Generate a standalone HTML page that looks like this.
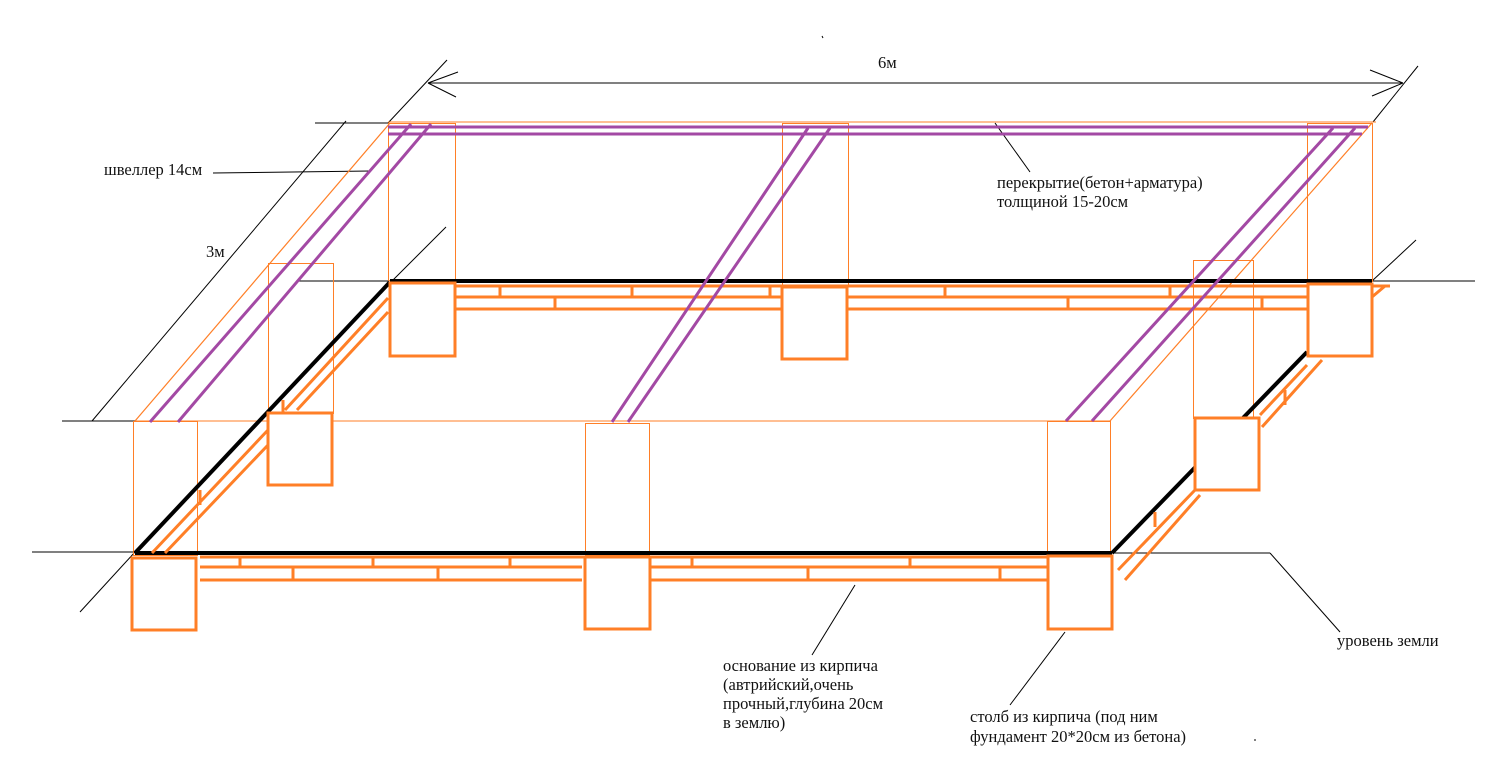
<!DOCTYPE html>
<html><head><meta charset="utf-8"><style>
html,body{margin:0;padding:0;background:#fff;}
svg{display:block}
text{font-family:"Liberation Serif",serif;font-size:16.5px;fill:#111}
</style></head><body>
<svg width="1496" height="782" viewBox="0 0 1496 782" xmlns="http://www.w3.org/2000/svg">
<g stroke="#000" stroke-width="1" fill="none">
<line x1="428" y1="83" x2="1403" y2="83"/>
<line x1="428" y1="83" x2="458" y2="72"/>
<line x1="428" y1="83" x2="456" y2="97"/>
<line x1="1403" y1="83" x2="1370" y2="70"/>
<line x1="1403" y1="83" x2="1372" y2="96"/>
<line x1="447" y1="60" x2="388" y2="123"/>
<line x1="1418" y1="66" x2="1373" y2="122"/>
<line x1="346" y1="121" x2="92" y2="421"/>
<line x1="315" y1="123" x2="388" y2="123"/>
<line x1="62" y1="421" x2="135" y2="421"/>
<line x1="213" y1="173" x2="370" y2="171"/>
<line x1="296" y1="281" x2="388" y2="281"/>
<line x1="446" y1="227" x2="393" y2="280"/>
<line x1="995" y1="123" x2="1030" y2="172"/>
<line x1="32" y1="552" x2="135" y2="552"/>
<line x1="135" y1="552" x2="80" y2="612"/>
<line x1="1112" y1="553" x2="1270" y2="553"/>
<line x1="1270" y1="553" x2="1340" y2="632"/>
<line x1="1372" y1="281" x2="1475" y2="281"/>
<line x1="1372" y1="281" x2="1416" y2="240"/>
<line x1="855" y1="585" x2="812" y2="655"/>
<line x1="1065" y1="632" x2="1010" y2="705"/>
<line x1="822" y1="36" x2="823" y2="38"/>
<line x1="1254" y1="740" x2="1256" y2="740"/>
</g>
<g stroke="#ff7f27" stroke-width="1" fill="none" shape-rendering="crispEdges">
<line x1="388" y1="122" x2="1376" y2="122"/>
<line x1="135" y1="421" x2="1110" y2="421"/>
<rect x="388.5" y="123.5" width="67" height="157"/>
<rect x="782.5" y="123.5" width="66" height="162"/>
<rect x="1307.5" y="123.5" width="65" height="158"/>
<rect x="268.5" y="263.5" width="65" height="150"/>
<rect x="1193.5" y="260.5" width="60" height="158"/>
<rect x="133.5" y="421.5" width="64" height="134"/>
<rect x="585.5" y="423.5" width="64" height="132"/>
<rect x="1047.5" y="421.5" width="63" height="134"/>
</g>
<g stroke="#ff7f27" stroke-width="1.2" fill="none">
<line x1="135" y1="421" x2="390" y2="123"/>
<line x1="1110" y1="421" x2="1372" y2="123"/>
</g>
<g stroke="#000" stroke-width="4" fill="none">
<line x1="390" y1="281" x2="1372" y2="281"/>
<line x1="135" y1="553" x2="1112" y2="553"/>
<line x1="135" y1="553" x2="390" y2="282"/>
<line x1="1112" y1="553" x2="1307" y2="352"/>
</g>
<g stroke="#ff7f27" stroke-width="3" fill="none">
<line x1="455" y1="286" x2="1308" y2="286"/>
<line x1="455" y1="297" x2="1308" y2="297"/>
<line x1="455" y1="309" x2="1308" y2="309"/>
<line x1="1372" y1="297" x2="1385" y2="286"/><line x1="1372" y1="286" x2="1390" y2="286"/>
<line x1="500" y1="286" x2="500" y2="297"/><line x1="632" y1="286" x2="632" y2="297"/><line x1="770" y1="286" x2="770" y2="297"/>
<line x1="945" y1="286" x2="945" y2="297"/><line x1="1170" y1="286" x2="1170" y2="297"/>
<line x1="555" y1="297" x2="555" y2="309"/><line x1="1068" y1="297" x2="1068" y2="309"/><line x1="1262" y1="297" x2="1262" y2="309"/>
<line x1="200" y1="557" x2="1048" y2="557"/>
<line x1="200" y1="567" x2="582" y2="567"/><line x1="650" y1="567" x2="1048" y2="567"/>
<line x1="200" y1="580" x2="582" y2="580"/><line x1="650" y1="580" x2="1048" y2="580"/>
<line x1="240" y1="557" x2="240" y2="567"/><line x1="373" y1="557" x2="373" y2="567"/><line x1="510" y1="557" x2="510" y2="567"/>
<line x1="692" y1="557" x2="692" y2="567"/><line x1="910" y1="557" x2="910" y2="567"/>
<line x1="293" y1="567" x2="293" y2="580"/><line x1="438" y1="567" x2="438" y2="580"/><line x1="808" y1="567" x2="808" y2="580"/><line x1="1000" y1="567" x2="1000" y2="580"/>
<line x1="152" y1="553" x2="268" y2="430"/><line x1="165" y1="553" x2="268" y2="445"/>
<line x1="285" y1="410" x2="388" y2="298"/><line x1="297" y1="410" x2="388" y2="312"/>
<line x1="1118" y1="570" x2="1195" y2="490"/><line x1="1125" y1="580" x2="1200" y2="495"/>
<line x1="1260" y1="415" x2="1307" y2="365"/><line x1="1262" y1="427" x2="1322" y2="360"/>
<line x1="200" y1="490" x2="200" y2="505"/><line x1="283" y1="400" x2="283" y2="412"/>
<line x1="1155" y1="512" x2="1155" y2="527"/><line x1="1285" y1="390" x2="1285" y2="405"/>
</g>
<g stroke="#ff7f27" stroke-width="3" fill="#fff">
<rect x="390" y="283" width="65" height="73"/>
<rect x="782" y="287" width="65" height="72"/>
<rect x="1308" y="284" width="64" height="72"/>
<rect x="268" y="413" width="64" height="72"/>
<rect x="1195" y="418" width="64" height="72"/>
<rect x="132" y="558" width="64" height="72"/>
<rect x="585" y="557" width="65" height="72"/>
<rect x="1048" y="556" width="64" height="73"/>
</g>
<g stroke="#a349a4" stroke-width="3" fill="none">
<line x1="388" y1="127" x2="1368" y2="127"/>
<line x1="388" y1="134" x2="1362" y2="134"/>
<line x1="411" y1="124" x2="150" y2="422"/>
<line x1="431" y1="124" x2="178" y2="422"/>
<line x1="808" y1="128" x2="612" y2="422"/>
<line x1="830" y1="128" x2="628" y2="422"/>
<line x1="1333" y1="128" x2="1066" y2="421"/>
<line x1="1355" y1="128" x2="1092" y2="421"/>
</g>
<text x="878" y="68">6м</text>
<text x="104" y="175">швеллер 14см</text>
<text x="206" y="257">3м</text>
<text x="997" y="188">перекрытие(бетон+арматура)</text>
<text x="997" y="207">толщиной 15-20см</text>
<text x="723" y="671">основание из кирпича</text>
<text x="723" y="690">(автрийский,очень</text>
<text x="723" y="709">прочный,глубина 20см</text>
<text x="723" y="728">в землю)</text>
<text x="970" y="722">столб из кирпича (под ним</text>
<text x="970" y="742">фундамент 20*20см из бетона)</text>
<text x="1337" y="646">уровень земли</text>
</svg>
</body></html>
